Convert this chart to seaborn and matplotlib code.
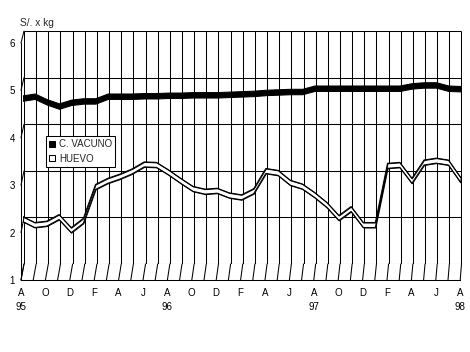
import numpy as np
import pandas as pd
import matplotlib
matplotlib.use("Agg")
import matplotlib.pyplot as plt
import seaborn as sns
from matplotlib.patches import ConnectionPatch
from matplotlib.lines import Line2D

# ---------------- data (Aug 95 .. Aug 98, monthly) ----------------
month_letters = ["A", "S", "O", "N", "D", "E", "F", "M", "A", "M", "J", "J"] * 3 + ["A"]
year_labels = {0: "95", 12: "96", 24: "97", 36: "98"}
series_names = ["C. VACUNO", "HUEVO"]
vacuno = [4.70, 4.74, 4.62, 4.53, 4.61, 4.64, 4.64, 4.74, 4.74, 4.74, 4.75, 4.75,
          4.76, 4.76, 4.77, 4.77, 4.77, 4.78, 4.79, 4.80, 4.82, 4.83, 4.84, 4.84,
          4.91, 4.91, 4.91, 4.91, 4.91, 4.91, 4.91, 4.91, 4.96, 4.98, 4.98, 4.91,
          4.90]
huevo = [2.13, 2.00, 2.03, 2.17, 1.89, 2.09, 2.81, 2.94, 3.03, 3.14, 3.29, 3.28,
         3.12, 2.94, 2.77, 2.71, 2.73, 2.63, 2.59, 2.72, 3.15, 3.11, 2.90, 2.82,
         2.64, 2.43, 2.15, 2.34, 2.00, 2.00, 3.26, 3.28, 2.94, 3.33, 3.37, 3.33,
         2.96]
y_ticks = [1, 2, 3, 4, 5, 6]
y_label = "S/. x kg"

idx = np.arange(len(month_letters))
df = pd.DataFrame({"mes": idx, "C. VACUNO": vacuno, "HUEVO": huevo})

sns.set_style("white")
plt.rcParams["font.family"] = ["Liberation Sans", "DejaVu Sans"]
FS = 7
W, H = 470, 352
fig = plt.figure(figsize=(W / 100, H / 100), dpi=100)

def box(x0, x1, ytop, ybot):
    return [x0 / W, 1 - ybot / H, (x1 - x0) / W, (ybot - ytop) / H]

LW = 0.75
# back wall (gridlines)
ax_b = fig.add_axes(box(24, 461.5, 31, 264))
ax_b.set_xlim(0, 36); ax_b.set_ylim(1, 6); ax_b.axis("off")
ax_b.hlines(y_ticks, 0, 36, color="black", lw=LW)
ax_b.vlines(idx, 1, 6, color="black", lw=LW)

# front plane (axes, ticks, labels)
ax = fig.add_axes(box(21, 460.2, 43, 280))
ax.set_facecolor("none")
ax.set_xlim(0, 36); ax.set_ylim(1, 6)
for s in ["top", "right"]:
    ax.spines[s].set_visible(False)
for s in ["left", "bottom"]:
    ax.spines[s].set_color("black"); ax.spines[s].set_linewidth(LW)
ax.set_yticks(y_ticks)
ax.set_yticklabels([str(t) for t in y_ticks], fontsize=FS)
ax.set_yticks(np.arange(1.5, 6, 1.0), minor=True)
ax.set_xticks(idx)
labels = []
for i in idx:
    lab = month_letters[i] if i % 2 == 0 else ""
    if i in year_labels:
        lab += "\n" + year_labels[i]
    labels.append(lab)
ax.set_xticklabels(labels, fontsize=FS, linespacing=1.55)
ax.tick_params(axis="both", which="both", direction="out", color="black",
               width=LW, length=2.2, labelcolor="black")
ax.tick_params(axis="y", pad=2)
ax.tick_params(axis="x", pad=3.2)
ax.tick_params(axis="y", which="minor", length=1.6)

# floor slants and side wall connectors
for i in idx:
    fig.add_artist(ConnectionPatch(xyA=(i, 1), coordsA=ax_b.transData,
                                   xyB=(i, 1), coordsB=ax.transData,
                                   color="black", lw=LW))
for v in y_ticks:
    fig.add_artist(ConnectionPatch(xyA=(0, v), coordsA=ax.transData,
                                   xyB=(0, v), coordsB=ax_b.transData,
                                   color="black", lw=LW))

# data plane (mid depth)
ax_d = fig.add_axes(box(22.5, 460.5, 37, 272))
ax_d.set_facecolor("none")
ax_d.set_xlim(0, 36); ax_d.set_ylim(1, 6); ax_d.axis("off")

hv = 0.058
ax_d.fill_between(df["mes"], df["C. VACUNO"] - hv, df["C. VACUNO"] + hv,
                  facecolor="black", edgecolor="black", lw=LW, zorder=3)
sns.lineplot(data=df, x="mes", y="C. VACUNO", ax=ax_d, color="black", lw=2, zorder=3)

hh = 0.053
ax_d.fill_between(df["mes"], df["HUEVO"] - hh, df["HUEVO"] + hh,
                  facecolor="white", edgecolor="black", lw=LW, zorder=3)
sns.lineplot(x=df["mes"], y=df["HUEVO"] + hh, ax=ax_d, color="black", lw=LW, zorder=4)
sns.lineplot(x=df["mes"], y=df["HUEVO"] - hh, ax=ax_d, color="black", lw=LW, zorder=4)
ax_d.set_xlabel(""); ax_d.set_ylabel("")

handles = [Line2D([], [], marker="s", ls="none", markersize=5, markerfacecolor="black",
                  markeredgecolor="black", markeredgewidth=LW),
           Line2D([], [], marker="s", ls="none", markersize=5, markerfacecolor="white",
                  markeredgecolor="black", markeredgewidth=LW)]
leg = ax_d.legend(handles, series_names, loc="upper left",
                  bbox_to_anchor=(46 / W, 1 - 136 / H), bbox_transform=fig.transFigure,
                  borderaxespad=0, frameon=True, fancybox=False, framealpha=1,
                  edgecolor="black", fontsize=FS, borderpad=0.3, handlelength=0.7,
                  handletextpad=0.35, labelspacing=0.5)
leg.get_frame().set_linewidth(LW)
leg.set_zorder(10)

fig.text(20 / W, 1 - 22.7 / H, y_label, fontsize=FS + 0.3, ha="left", va="center")

fig.savefig("out.png", dpi=100)
